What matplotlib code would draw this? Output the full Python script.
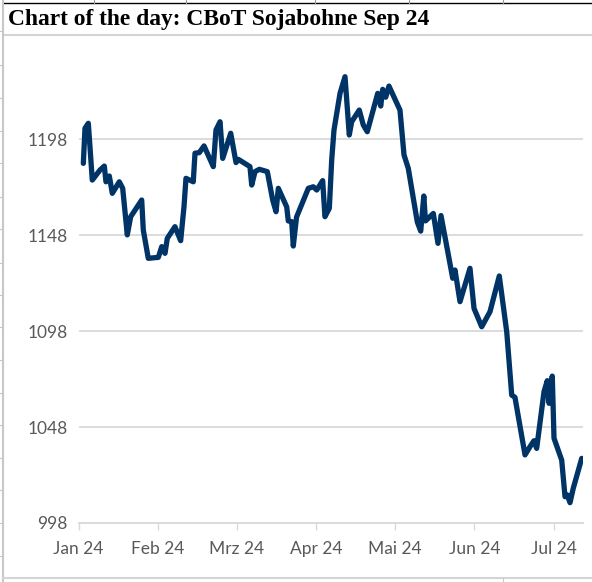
import matplotlib.pyplot as plt
from matplotlib.lines import Line2D

# x position in months since 1 Jan 2024, price in US-cent/bu
months = [0.061, 0.082, 0.124, 0.174, 0.271, 0.326, 0.347, 0.389, 0.427, 0.515,
          0.558, 0.616, 0.659, 0.798, 0.818, 0.881, 1.008, 1.051, 1.092, 1.121,
          1.218, 1.290, 1.332, 1.357, 1.449, 1.471, 1.525, 1.585, 1.702, 1.736,
          1.787, 1.821, 1.922, 1.989, 2.018, 2.165, 2.187, 2.229, 2.283, 2.384,
          2.452, 2.494, 2.523, 2.629, 2.649, 2.692, 2.712, 2.753, 2.902, 2.965,
          3.008, 3.083, 3.112, 3.167, 3.197, 3.226, 3.302, 3.365, 3.419, 3.449,
          3.545, 3.596, 3.646, 3.778, 3.816, 3.841, 3.879, 3.920, 4.059, 4.110,
          4.164, 4.278, 4.321, 4.360, 4.381, 4.480, 4.539, 4.577, 4.725, 4.754,
          4.817, 4.943, 4.994, 5.091, 5.196, 5.313, 5.407, 5.470, 5.511, 5.638,
          5.701, 5.751, 5.785, 5.878, 5.919, 5.941, 5.982, 6.004, 6.101, 6.143,
          6.172, 6.206, 6.247, 6.354]
prices = [1185.5, 1203.8, 1206.4, 1176.8, 1182.0, 1184.1, 1175.9, 1178.9, 1169.9, 1175.9,
          1172.5, 1148.2, 1157.7, 1166.4, 1150.8, 1136.0, 1136.5, 1142.1, 1138.6, 1146.4,
          1152.5, 1145.2, 1162.9, 1177.7, 1175.9, 1190.8, 1191.1, 1194.6, 1183.8, 1202.9,
          1207.2, 1188.1, 1201.2, 1185.9, 1187.6, 1183.8, 1174.2, 1181.2, 1182.4, 1181.2,
          1166.4, 1160.3, 1172.5, 1162.8, 1155.5, 1155.1, 1142.4, 1157.5, 1172.5, 1173.3,
          1171.6, 1176.5, 1157.7, 1162.1, 1187.3, 1202.9, 1222.0, 1230.7, 1200.3, 1207.2,
          1213.3, 1205.5, 1202.0, 1222.0, 1215.4, 1224.1, 1220.0, 1225.8, 1213.3, 1189.9,
          1182.9, 1154.9, 1150.2, 1168.5, 1155.5, 1159.4, 1143.8, 1158.3, 1125.6, 1129.9,
          1113.4, 1130.8, 1109.9, 1100.3, 1108.2, 1126.8, 1097.7, 1064.7, 1063.5, 1033.5,
          1037.8, 1040.9, 1036.9, 1066.5, 1072.2, 1060.4, 1074.6, 1042.2, 1030.8, 1011.7,
          1012.6, 1008.6, 1016.1, 1031.7]
month_labels = ["Jan 24", "Feb 24", "Mrz 24", "Apr 24", "Mai 24", "Jun 24", "Jul 24"]
y_ticks = [998, 1048, 1098, 1148, 1198]

W, H = 592, 582
fig = plt.figure(figsize=(W / 100, H / 100), dpi=100)
fig.patch.set_facecolor("white")

# spreadsheet cell borders behind the chart
def px_line(x0, y0, x1, y1, color, lw=1.0):
    fig.add_artist(Line2D([x0 / W, x1 / W], [1 - y0 / H, 1 - y1 / H],
                          transform=fig.transFigure, color=color, lw=lw))

px_line(3, 2.5, W, 2.5, "black", 1.0)
for cx in [94, 186, 315, 409, 503]:
    px_line(cx, 0, cx, 2.5, "#9a9a9a", 0.8)
px_line(3, 35, W, 35, "#d4d4d4", 1.5)
px_line(3, 0, 3, H, "#c8c8c8", 1.5)
for ry in [31, 65, 98, 131, 163, 197, 229, 263, 295, 327, 360, 393, 425, 458, 490, 523, 556]:
    px_line(0, ry, 3, ry, "#c8c8c8", 0.8)
px_line(3, 578, W, 578, "#d4d4d4", 1.5)
px_line(503, 578, 503, H, "#c8c8c8", 0.8)

fig.text(8 / W, 1 - 19 / H, "Chart of the day: CBoT Sojabohne Sep 24",
         family="Liberation Serif", weight="bold", fontsize=16.9,
         va="center", ha="left", color="black")

ax = fig.add_axes([78.5 / W, 1 - 523 / H, (583 - 78.5) / W, (523 - 43.5) / H])
ax.set_facecolor("none")
ax.plot(months, prices, color="#003366", lw=3.8, solid_joinstyle="round",
        solid_capstyle="round", zorder=3)

ax.set_xlim(0, 6.37)
ax.set_ylim(998, 1248)
ax.set_yticks(y_ticks)
ax.set_xticks(range(len(month_labels)))
ax.set_xticklabels(month_labels)

for s in ["top", "right", "left"]:
    ax.spines[s].set_visible(False)
ax.spines["bottom"].set_color("#d9d9d9")
ax.spines["bottom"].set_linewidth(1.3)
ax.grid(axis="y", color="#d9d9d9", lw=1.3)
ax.set_axisbelow(True)

ax.tick_params(axis="y", length=0, pad=8, labelsize=12.5, labelcolor="#595959")
ax.tick_params(axis="x", length=5, width=1.0, color="#d9d9d9", pad=8,
               labelsize=12.5, labelcolor="#595959")
for lbl in ax.get_xticklabels() + ax.get_yticklabels():
    lbl.set_family("Lato")

fig.savefig("out.png", dpi=100)
